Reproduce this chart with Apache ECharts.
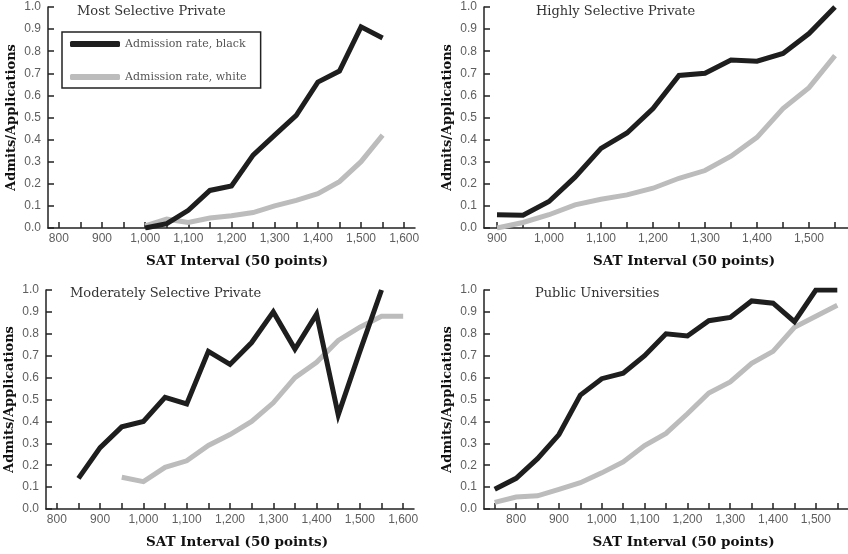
<!DOCTYPE html>
<html><head><meta charset="utf-8">
<script src="https://cdn.jsdelivr.net/npm/echarts@6/dist/echarts.min.js"></script>
<style>html,body{margin:0;padding:0;background:#fff}#c{width:848px;height:554px}</style>
</head><body><div id="c"></div>
<script>
const panelTitles = ['Most Selective Private','Highly Selective Private','Moderately Selective Private','Public Universities'];
const seriesNames = ['Admission rate, black','Admission rate, white'];
const yLabel = 'Admits/Applications';
const xLabel = 'SAT Interval (50 points)';

// Most Selective Private
const p1X = [1000,1050,1100,1150,1200,1250,1300,1350,1400,1450,1500,1550];
const p1Black = [0.0,0.02,0.08,0.17,0.19,0.33,0.42,0.51,0.66,0.71,0.91,0.86];
const p1White = [0.01,0.04,0.025,0.045,0.055,0.07,0.10,0.125,0.155,0.21,0.30,0.42];
// Highly Selective Private
const p2X = [900,950,1000,1050,1100,1150,1200,1250,1300,1350,1400,1450,1500,1550];
const p2Black = [0.06,0.058,0.12,0.23,0.36,0.43,0.54,0.69,0.70,0.76,0.755,0.79,0.88,1.0];
const p2White = [0.0,0.025,0.06,0.105,0.13,0.15,0.18,0.225,0.26,0.325,0.41,0.54,0.635,0.78];
// Moderately Selective Private
const p3BlackX = [850,900,950,1000,1050,1100,1150,1200,1250,1300,1350,1400,1450,1500,1550];
const p3Black = [0.14,0.28,0.375,0.40,0.51,0.48,0.72,0.66,0.76,0.90,0.73,0.89,0.43,0.72,1.0];
const p3WhiteX = [950,1000,1050,1100,1150,1200,1250,1300,1350,1400,1450,1500,1550,1600];
const p3White = [0.145,0.125,0.19,0.22,0.29,0.34,0.40,0.485,0.60,0.67,0.77,0.83,0.88,0.88];
// Public Universities
const p4X = [750,800,850,900,950,1000,1050,1100,1150,1200,1250,1300,1350,1400,1450,1500,1550];
const p4Black = [0.09,0.14,0.23,0.34,0.52,0.595,0.62,0.70,0.80,0.79,0.86,0.875,0.95,0.94,0.855,1.0,1.0];
const p4White = [0.03,0.055,0.06,0.09,0.12,0.165,0.215,0.29,0.345,0.435,0.53,0.58,0.665,0.72,0.83,0.88,0.93];

// Axis ranges and tick/label values
const xRanges = [[775,1625],[875,1575],[775,1625],[725,1575]];
const xTickVals = [
  [800,850,900,950,1000,1050,1100,1150,1200,1250,1300,1350,1400,1450,1500,1550,1600],
  [900,950,1000,1050,1100,1150,1200,1250,1300,1350,1400,1450,1500,1550],
  [800,850,900,950,1000,1050,1100,1150,1200,1250,1300,1350,1400,1450,1500,1550,1600],
  [750,800,850,900,950,1000,1050,1100,1150,1200,1250,1300,1350,1400,1450,1500,1550]
];
const xLabelVals = [
  [800,900,1000,1100,1200,1300,1400,1500,1600],
  [900,1000,1100,1200,1300,1400,1500],
  [800,900,1000,1100,1200,1300,1400,1500,1600],
  [800,900,1000,1100,1200,1300,1400,1500]
];

const grids = [
  {left:48, top:7, width:367, height:221},
  {left:484, top:7, width:368, height:221},
  {left:46, top:290, width:368, height:219},
  {left:484, top:290, width:369, height:219}
];
const titlePos = [[77,5],[536,5],[70,287],[535,287]];
const namePad = [11,36,14,35];

const BLACK = '#1e1e1e', GRAY = '#bcbcbc';
const slab = 'DejaVu Serif';

function zip(xs, ys){ return xs.map((x,i)=>[x, ys[i]]); }

const xAxes = grids.map((g,i)=>({
  type:'value', gridIndex:i, min:xRanges[i][0], max:xRanges[i][1],
  name:xLabel, nameLocation:'middle', nameGap:26,
  nameTextStyle:{fontFamily:slab, fontWeight:'bold', fontSize:13.5, color:'#111', padding:[0,0,0,namePad[i]]},
  axisLine:{show:true, onZero:false, lineStyle:{color:'#222', width:1.5}},
  axisTick:{show:true, inside:true, length:6, customValues:xTickVals[i], lineStyle:{color:'#222', width:1.5}},
  axisLabel:{customValues:xLabelVals[i], margin:5, fontFamily:'Liberation Sans', fontSize:12, color:'#5e5e5e',
    formatter:v=>v.toLocaleString('en-US')},
  splitLine:{show:false}
}));
const yAxes = grids.map((g,i)=>({
  type:'value', gridIndex:i, min:0, max:1, interval:0.1,
  name:yLabel, nameLocation:'middle', nameGap:30,
  nameTextStyle:{fontFamily:slab, fontWeight:'bold', fontSize:13, color:'#111'},
  axisLine:{show:true, onZero:false, lineStyle:{color:'#222', width:1.5}},
  axisTick:{show:true, inside:true, length:6, lineStyle:{color:'#222', width:1.5}},
  axisLabel:{margin:7, fontFamily:'Liberation Sans', fontSize:12, color:'#5e5e5e', formatter:v=>v.toFixed(1)},
  splitLine:{show:false}
}));

function line(name, data, idx, color){
  return {type:'line', name, xAxisIndex:idx, yAxisIndex:idx, data, showSymbol:false, symbol:'none',
    lineStyle:{color, width:5, join:'miter', cap:'butt'}, itemStyle:{color}, animation:false, silent:true};
}
const series = [
  line(seriesNames[1], zip(p1X,p1White), 0, GRAY),
  line(seriesNames[0], zip(p1X,p1Black), 0, BLACK),
  line(seriesNames[1], zip(p2X,p2White), 1, GRAY),
  line(seriesNames[0], zip(p2X,p2Black), 1, BLACK),
  line(seriesNames[1], zip(p3WhiteX,p3White), 2, GRAY),
  line(seriesNames[0], zip(p3BlackX,p3Black), 2, BLACK),
  line(seriesNames[1], zip(p4X,p4White), 3, GRAY),
  line(seriesNames[0], zip(p4X,p4Black), 3, BLACK)
];

const chart = echarts.init(document.getElementById('c'), null, {renderer:'canvas'});
chart.setOption({
  animation:false,
  backgroundColor:'#fff',
  title: panelTitles.map((t,i)=>({text:t, left:titlePos[i][0], top:titlePos[i][1], padding:0,
    textStyle:{fontFamily:slab, fontWeight:'normal', fontSize:13, color:'#333'}})),
  legend:{
    data:[seriesNames[0], seriesNames[1]], orient:'vertical', left:62, top:32,
    icon:'roundRect', itemWidth:50, itemHeight:6, itemGap:19,
    padding:[5,14,4,8], borderColor:'#222', borderWidth:1.5, backgroundColor:'#fff',
    textStyle:{fontFamily:slab, fontSize:11, color:'#555', lineHeight:14}, selectedMode:false
  },
  grid: grids,
  xAxis: xAxes,
  yAxis: yAxes,
  series
});
</script></body></html>
